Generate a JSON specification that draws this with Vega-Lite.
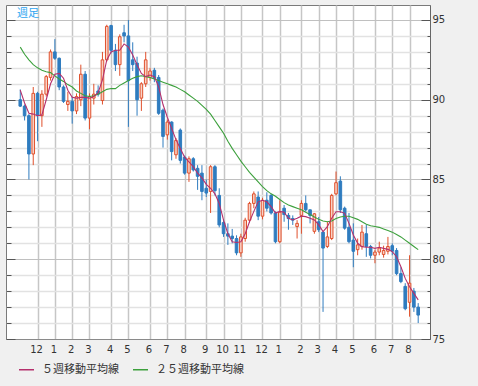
{
  "$schema": "https://vega.github.io/schema/vega-lite/v6.json",
  "width": 424,
  "height": 334,
  "autosize": {"type": "none"},
  "padding": {"left": 6, "top": 5, "right": 48, "bottom": 47},
  "background": "#f0f0f0",
  "title": {"text": "週足", "anchor": "start", "frame": "group", "offset": -14, "dx": 11, "fontSize": 11, "font": "Noto Sans CJK JP", "fontWeight": "normal", "color": "#2ea4f0"},
  "config": {"view": {"fill": "white", "stroke": "#7a7a7a", "strokeWidth": 1}},
  "data": {"values": [
    {"d": "2020-11-09", "o": 90.0, "h": 90.65, "l": 89.55, "c": 89.6, "m5": 90.6, "m25": 93.3},
    {"d": "2020-11-16", "o": 89.6, "h": 89.7, "l": 88.7, "c": 89.0, "m5": 89.8, "m25": 92.85},
    {"d": "2020-11-23", "o": 89.0, "h": 89.1, "l": 85.0, "c": 86.6, "m5": 89.15, "m25": 92.5},
    {"d": "2020-11-30", "o": 86.6, "h": 90.8, "l": 85.9, "c": 90.4, "m5": 89.1, "m25": 92.2},
    {"d": "2020-12-07", "o": 90.4, "h": 90.5, "l": 87.4, "c": 89.0, "m5": 89.0, "m25": 92.0},
    {"d": "2020-12-14", "o": 89.0, "h": 90.6, "l": 88.3, "c": 90.35, "m5": 89.05, "m25": 91.85},
    {"d": "2020-12-21", "o": 90.35, "h": 91.55, "l": 90.2, "c": 91.45, "m5": 90.0, "m25": 91.75},
    {"d": "2020-12-28", "o": 91.4, "h": 93.15, "l": 91.2, "c": 93.0, "m5": 91.0, "m25": 91.7},
    {"d": "2021-01-04", "o": 93.0, "h": 93.8, "l": 92.5, "c": 92.6, "m5": 91.6, "m25": 91.5},
    {"d": "2021-01-11", "o": 92.6, "h": 92.65, "l": 90.6, "c": 90.8, "m5": 91.65, "m25": 91.3},
    {"d": "2021-01-18", "o": 90.8, "h": 90.9, "l": 89.8, "c": 89.9, "m5": 91.35, "m25": 91.15},
    {"d": "2021-01-25", "o": 89.7, "h": 90.5, "l": 89.3, "c": 89.9, "m5": 90.6, "m25": 90.95},
    {"d": "2021-02-01", "o": 89.9, "h": 90.2, "l": 88.5, "c": 89.3, "m5": 90.15, "m25": 90.8},
    {"d": "2021-02-08", "o": 89.3, "h": 90.4, "l": 89.1, "c": 90.2, "m5": 90.1, "m25": 90.55},
    {"d": "2021-02-15", "o": 90.0, "h": 92.2, "l": 89.6, "c": 91.6, "m5": 90.15, "m25": 90.4},
    {"d": "2021-02-22", "o": 91.6, "h": 91.8, "l": 88.7, "c": 88.85, "m5": 90.15, "m25": 90.25},
    {"d": "2021-03-01", "o": 88.85, "h": 90.4, "l": 88.15, "c": 90.2, "m5": 90.1, "m25": 90.2},
    {"d": "2021-03-08", "o": 90.1, "h": 91.0, "l": 89.7, "c": 90.35, "m5": 90.2, "m25": 90.25},
    {"d": "2021-03-15", "o": 90.55, "h": 90.9, "l": 90.2, "c": 90.35, "m5": 90.45, "m25": 90.35},
    {"d": "2021-03-22", "o": 89.95, "h": 93.0, "l": 89.7, "c": 92.5, "m5": 91.25, "m25": 90.5},
    {"d": "2021-03-29", "o": 92.5, "h": 94.7, "l": 92.4, "c": 94.6, "m5": 92.5, "m25": 90.65},
    {"d": "2021-04-05", "o": 94.65, "h": 94.7, "l": 92.9, "c": 93.1, "m5": 93.0, "m25": 90.7},
    {"d": "2021-04-12", "o": 93.1, "h": 93.5, "l": 91.8, "c": 92.2, "m5": 93.1, "m25": 90.7},
    {"d": "2021-04-19", "o": 92.2, "h": 94.1, "l": 91.5, "c": 93.95, "m5": 93.1, "m25": 90.9},
    {"d": "2021-04-26", "o": 94.2, "h": 94.7, "l": 93.6, "c": 94.0, "m5": 93.5, "m25": 91.05},
    {"d": "2021-05-03", "o": 94.0, "h": 95.0, "l": 88.3, "c": 91.2, "m5": 93.3, "m25": 91.2},
    {"d": "2021-05-10", "o": 92.5, "h": 93.6, "l": 91.8, "c": 92.2, "m5": 92.8, "m25": 91.35},
    {"d": "2021-05-17", "o": 92.3, "h": 92.7, "l": 89.0, "c": 90.0, "m5": 92.2, "m25": 91.45},
    {"d": "2021-05-24", "o": 90.1, "h": 91.1, "l": 89.3, "c": 91.0, "m5": 91.65, "m25": 91.5},
    {"d": "2021-05-31", "o": 91.0, "h": 93.0, "l": 90.8, "c": 92.5, "m5": 91.45, "m25": 91.45},
    {"d": "2021-06-07", "o": 91.4, "h": 92.0, "l": 91.2, "c": 91.8, "m5": 91.55, "m25": 91.4},
    {"d": "2021-06-14", "o": 91.85, "h": 92.0, "l": 91.1, "c": 91.35, "m5": 91.45, "m25": 91.3},
    {"d": "2021-06-21", "o": 91.4, "h": 91.55, "l": 89.05, "c": 89.15, "m5": 90.8, "m25": 91.2},
    {"d": "2021-06-28", "o": 89.35, "h": 89.45, "l": 87.0, "c": 87.7, "m5": 89.7, "m25": 91.1},
    {"d": "2021-07-05", "o": 87.8, "h": 88.75, "l": 87.5, "c": 88.6, "m5": 88.9, "m25": 91.0},
    {"d": "2021-07-12", "o": 88.6, "h": 88.65, "l": 86.2, "c": 86.75, "m5": 88.2, "m25": 90.9},
    {"d": "2021-07-19", "o": 86.55, "h": 87.6, "l": 86.3, "c": 87.45, "m5": 87.5, "m25": 90.8},
    {"d": "2021-07-26", "o": 88.1, "h": 88.2, "l": 86.0, "c": 86.2, "m5": 86.95, "m25": 90.65},
    {"d": "2021-08-02", "o": 86.4, "h": 86.5, "l": 85.3, "c": 85.4, "m5": 86.4, "m25": 90.5},
    {"d": "2021-08-09", "o": 85.4, "h": 86.45, "l": 84.85, "c": 86.3, "m5": 86.1, "m25": 90.3},
    {"d": "2021-08-16", "o": 86.3, "h": 86.4, "l": 85.5, "c": 85.6, "m5": 85.8, "m25": 90.1},
    {"d": "2021-08-23", "o": 85.7, "h": 85.9, "l": 84.35, "c": 85.2, "m5": 85.4, "m25": 89.9},
    {"d": "2021-08-30", "o": 85.4, "h": 85.9, "l": 83.7, "c": 84.25, "m5": 85.1, "m25": 89.65},
    {"d": "2021-09-06", "o": 84.45, "h": 85.0, "l": 83.9, "c": 84.15, "m5": 84.7, "m25": 89.4},
    {"d": "2021-09-13", "o": 84.25, "h": 85.9, "l": 82.9, "c": 85.8, "m5": 84.45, "m25": 89.1},
    {"d": "2021-09-20", "o": 85.8, "h": 85.9, "l": 84.0, "c": 84.3, "m5": 84.1, "m25": 88.7},
    {"d": "2021-09-27", "o": 84.0, "h": 84.45, "l": 82.0, "c": 82.15, "m5": 83.5, "m25": 88.3},
    {"d": "2021-10-04", "o": 82.3, "h": 82.5, "l": 81.4, "c": 81.6, "m5": 82.45, "m25": 87.9},
    {"d": "2021-10-11", "o": 81.6, "h": 82.25, "l": 80.9, "c": 81.45, "m5": 81.6, "m25": 87.4},
    {"d": "2021-10-18", "o": 81.45, "h": 81.9, "l": 81.0, "c": 81.3, "m5": 81.1, "m25": 86.95},
    {"d": "2021-10-25", "o": 81.3, "h": 81.5, "l": 80.25, "c": 80.4, "m5": 81.05, "m25": 86.55},
    {"d": "2021-11-01", "o": 80.4, "h": 81.6, "l": 80.15, "c": 81.4, "m5": 81.1, "m25": 86.15},
    {"d": "2021-11-08", "o": 81.3, "h": 82.6, "l": 81.1, "c": 82.45, "m5": 81.6, "m25": 85.8},
    {"d": "2021-11-15", "o": 82.45, "h": 83.6, "l": 82.3, "c": 83.5, "m5": 82.35, "m25": 85.45},
    {"d": "2021-11-22", "o": 83.5, "h": 84.25, "l": 83.2, "c": 84.1, "m5": 83.0, "m25": 85.15},
    {"d": "2021-11-29", "o": 83.9, "h": 84.25, "l": 82.45, "c": 82.7, "m5": 83.6, "m25": 84.85},
    {"d": "2021-12-06", "o": 82.7, "h": 83.85, "l": 82.5, "c": 83.7, "m5": 83.7, "m25": 84.55},
    {"d": "2021-12-13", "o": 83.7, "h": 84.2, "l": 83.0, "c": 83.2, "m5": 83.6, "m25": 84.3},
    {"d": "2021-12-20", "o": 84.0, "h": 84.1, "l": 82.8, "c": 82.9, "m5": 83.3, "m25": 84.1},
    {"d": "2021-12-27", "o": 82.9, "h": 83.0, "l": 81.0, "c": 81.1, "m5": 82.9, "m25": 83.95},
    {"d": "2022-01-03", "o": 81.1, "h": 83.7, "l": 81.0, "c": 82.95, "m5": 83.0, "m25": 83.75},
    {"d": "2022-01-10", "o": 83.2, "h": 83.4, "l": 82.35, "c": 82.8, "m5": 82.95, "m25": 83.55},
    {"d": "2022-01-17", "o": 82.75, "h": 82.9, "l": 81.85, "c": 82.55, "m5": 82.57, "m25": 83.4},
    {"d": "2022-01-24", "o": 82.55, "h": 82.75, "l": 82.15, "c": 82.45, "m5": 82.46, "m25": 83.3},
    {"d": "2022-01-31", "o": 82.05, "h": 82.45, "l": 81.3, "c": 82.25, "m5": 82.57, "m25": 83.2},
    {"d": "2022-02-07", "o": 82.75, "h": 83.7, "l": 81.6, "c": 83.5, "m5": 82.7, "m25": 83.1},
    {"d": "2022-02-14", "o": 83.5, "h": 84.0, "l": 83.0, "c": 83.1, "m5": 82.67, "m25": 82.95},
    {"d": "2022-02-21", "o": 83.1, "h": 83.1, "l": 82.25, "c": 82.75, "m5": 82.57, "m25": 82.8},
    {"d": "2022-02-28", "o": 81.75, "h": 82.9, "l": 81.6, "c": 82.85, "m5": 82.46, "m25": 82.65},
    {"d": "2022-03-07", "o": 82.35, "h": 82.65, "l": 81.7, "c": 81.85, "m5": 82.15, "m25": 82.5},
    {"d": "2022-03-14", "o": 81.7, "h": 81.75, "l": 76.7, "c": 80.7, "m5": 81.73, "m25": 82.4},
    {"d": "2022-03-21", "o": 80.8, "h": 82.35, "l": 80.7, "c": 81.4, "m5": 82.04, "m25": 82.35},
    {"d": "2022-03-28", "o": 81.3, "h": 84.1, "l": 81.2, "c": 84.0, "m5": 82.57, "m25": 82.4},
    {"d": "2022-04-04", "o": 84.1, "h": 85.5, "l": 84.0, "c": 84.8, "m5": 82.98, "m25": 82.55},
    {"d": "2022-04-11", "o": 84.9, "h": 85.2, "l": 82.9, "c": 83.1, "m5": 82.98, "m25": 82.65},
    {"d": "2022-04-18", "o": 83.2, "h": 83.3, "l": 81.85, "c": 81.95, "m5": 82.88, "m25": 82.7},
    {"d": "2022-04-25", "o": 82.0, "h": 82.9, "l": 81.0, "c": 81.1, "m5": 82.25, "m25": 82.7},
    {"d": "2022-05-02", "o": 81.2, "h": 82.25, "l": 79.5, "c": 80.5, "m5": 81.52, "m25": 82.6},
    {"d": "2022-05-09", "o": 80.6, "h": 81.3, "l": 80.25, "c": 80.9, "m5": 81.0, "m25": 82.5},
    {"d": "2022-05-16", "o": 80.8, "h": 82.15, "l": 80.6, "c": 81.7, "m5": 80.79, "m25": 82.35},
    {"d": "2022-05-23", "o": 81.6, "h": 82.15, "l": 80.15, "c": 80.8, "m5": 80.75, "m25": 82.2},
    {"d": "2022-05-30", "o": 80.8, "h": 80.9, "l": 80.05, "c": 80.25, "m5": 80.75, "m25": 82.1},
    {"d": "2022-06-06", "o": 80.25, "h": 80.6, "l": 79.75, "c": 80.45, "m5": 80.68, "m25": 82.05},
    {"d": "2022-06-13", "o": 80.45, "h": 81.1, "l": 80.25, "c": 80.7, "m5": 80.75, "m25": 82.0},
    {"d": "2022-06-20", "o": 80.3, "h": 80.85, "l": 80.1, "c": 80.55, "m5": 80.68, "m25": 81.9},
    {"d": "2022-06-27", "o": 80.5, "h": 81.4, "l": 80.3, "c": 80.8, "m5": 80.62, "m25": 81.8},
    {"d": "2022-07-04", "o": 80.85, "h": 81.0, "l": 80.25, "c": 80.5, "m5": 80.48, "m25": 81.7},
    {"d": "2022-07-11", "o": 80.55, "h": 80.7, "l": 79.0, "c": 79.1, "m5": 80.16, "m25": 81.55},
    {"d": "2022-07-18", "o": 79.1, "h": 79.5, "l": 78.5, "c": 78.6, "m5": 79.53, "m25": 81.4},
    {"d": "2022-07-25", "o": 78.3, "h": 78.5, "l": 76.8, "c": 76.9, "m5": 78.8, "m25": 81.2},
    {"d": "2022-08-01", "o": 77.3, "h": 80.25, "l": 76.4, "c": 78.5, "m5": 78.28, "m25": 81.0},
    {"d": "2022-08-08", "o": 78.0, "h": 78.2, "l": 76.7, "c": 77.0, "m5": 77.86, "m25": 80.8},
    {"d": "2022-08-15", "o": 77.0, "h": 77.25, "l": 76.0, "c": 76.5, "m5": 77.45, "m25": 80.6}
  ]},
  "encoding": {
    "x": {
      "field": "d", "type": "temporal",
      "scale": {"type": "utc", "domain": [{"year": 2020, "month": 10, "date": 25, "utc": true}, {"year": 2022, "month": 8, "date": 26, "utc": true}]},
      "axis": {
        "title": null,
        "values": [
          {"year": 2020, "month": 12, "date": 7, "utc": true},
          {"year": 2021, "month": 1, "date": 4, "utc": true},
          {"year": 2021, "month": 2, "date": 1, "utc": true},
          {"year": 2021, "month": 3, "date": 1, "utc": true},
          {"year": 2021, "month": 4, "date": 5, "utc": true},
          {"year": 2021, "month": 5, "date": 3, "utc": true},
          {"year": 2021, "month": 6, "date": 7, "utc": true},
          {"year": 2021, "month": 7, "date": 5, "utc": true},
          {"year": 2021, "month": 8, "date": 2, "utc": true},
          {"year": 2021, "month": 9, "date": 6, "utc": true},
          {"year": 2021, "month": 10, "date": 4, "utc": true},
          {"year": 2021, "month": 11, "date": 1, "utc": true},
          {"year": 2021, "month": 12, "date": 6, "utc": true},
          {"year": 2022, "month": 1, "date": 3, "utc": true},
          {"year": 2022, "month": 2, "date": 7, "utc": true},
          {"year": 2022, "month": 3, "date": 7, "utc": true},
          {"year": 2022, "month": 4, "date": 4, "utc": true},
          {"year": 2022, "month": 5, "date": 2, "utc": true},
          {"year": 2022, "month": 6, "date": 6, "utc": true},
          {"year": 2022, "month": 7, "date": 4, "utc": true},
          {"year": 2022, "month": 8, "date": 1, "utc": true}
        ],
        "labelExpr": "utcFormat(datum.value, '%-m')",
        "labelOverlap": false,
        "labelFlush": false,
        "grid": true, "gridColor": "#c6c6c6", "gridWidth": 1.5,
        "ticks": false,
        "domain": true, "domainColor": "#8a8a8a",
        "labelFont": "DejaVu Sans", "labelFontSize": 10, "labelColor": "#333333",
        "labelPadding": 5, "labelOffset": -1.5
      }
    }
  },
  "layer": [
    {
      "mark": {"type": "rule", "strokeWidth": 1},
      "encoding": {
        "y": {"field": "l", "type": "quantitative", "scale": {"domain": [75, 95.94], "nice": false, "zero": false},
          "axis": {"orient": "right", "title": null, "values": [76,77,78,79,81,82,83,84,86,87,88,89,91,92,93,94], "labels": false, "domain": false, "tickSize": -3, "tickColor": "#555555", "grid": true, "gridColor": "#e2e2e2", "gridWidth": 1.3}},
        "y2": {"field": "h"},
        "stroke": {"condition": {"test": "datum.c >= datum.o", "value": "#e0502c"}, "value": "#2f7cbf"}
      }
    },
    {
      "mark": {"type": "bar", "width": 2.6, "strokeWidth": 1},
      "encoding": {
        "y": {"field": "o", "type": "quantitative", "scale": {"domain": [75, 95.94], "nice": false, "zero": false},
          "axis": {"orient": "right", "title": null, "values": [75, 80, 85, 90, 95], "labels": true, "labelPadding": 11, "labelFont": "DejaVu Sans", "labelFontSize": 10, "labelColor": "#333333", "domain": true, "domainColor": "#666666", "tickSize": -9, "tickColor": "#555555", "grid": true, "gridColor": "#c0c0c0"}},
        "y2": {"field": "c"},
        "fill": {"condition": {"test": "datum.c >= datum.o", "value": "#f8d2c6"}, "value": "#2f7cbf"},
        "stroke": {"condition": {"test": "datum.c >= datum.o", "value": "#e0502c"}, "value": "#2f7cbf"}
      }
    },
    {
      "mark": {"type": "line", "strokeWidth": 1.1},
      "encoding": {
        "y": {"field": "m25", "type": "quantitative", "scale": {"domain": [75, 95.94], "nice": false, "zero": false},
          "axis": {"orient": "left", "title": null, "values": [76,77,78,79,81,82,83,84,86,87,88,89,91,92,93,94], "labels": false, "domain": false, "tickSize": -5, "tickColor": "#555555", "grid": false}},
        "color": {"datum": "２５週移動平均線", "type": "nominal",
          "scale": {"domain": ["５週移動平均線", "２５週移動平均線"], "range": ["#b5306c", "#3ca03c"]},
          "legend": {"orient": "none", "legendX": 12, "legendY": 356, "direction": "horizontal", "title": null, "symbolType": "stroke", "symbolSize": 225, "symbolStrokeWidth": 1.5, "labelFont": "Noto Sans CJK JP", "labelFontSize": 11, "labelColor": "#333333", "labelOffset": 7, "columnPadding": 11, "labelLimit": 300}}
      }
    },
    {
      "mark": {"type": "line", "strokeWidth": 1.1},
      "encoding": {
        "y": {"field": "m5", "type": "quantitative", "scale": {"domain": [75, 95.94], "nice": false, "zero": false},
          "axis": {"orient": "left", "title": null, "values": [75, 80, 85, 90, 95], "labels": false, "domain": false, "tickSize": -9, "tickColor": "#555555", "grid": false}},
        "color": {"datum": "５週移動平均線", "type": "nominal",
          "scale": {"domain": ["５週移動平均線", "２５週移動平均線"], "range": ["#b5306c", "#3ca03c"]},
          "legend": {"orient": "none", "legendX": 12, "legendY": 356, "direction": "horizontal", "title": null, "symbolType": "stroke", "symbolSize": 225, "symbolStrokeWidth": 1.5, "labelFont": "Noto Sans CJK JP", "labelFontSize": 11, "labelColor": "#333333", "labelOffset": 7, "columnPadding": 11, "labelLimit": 300}}
      }
    }
  ],
  "resolve": {"axis": {"y": "independent"}}
}
